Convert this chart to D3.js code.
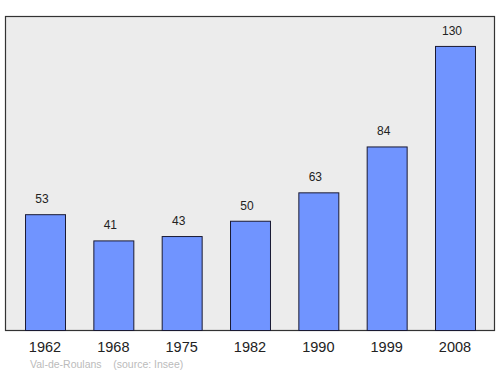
<!DOCTYPE html>
<html>
<head>
<meta charset="utf-8">
<script src="https://d3js.org/d3.v7.min.js"></script>
<style>
  body { margin: 0; background: #fff; }
  text { font-family: "Liberation Sans", Arial, sans-serif; }
</style>
</head>
<body>
<svg width="500" height="374"></svg>
<script>
  // data
  var years = ['1962', '1968', '1975', '1982', '1990', '1999', '2008'];
  var population = [53, 41, 43, 50, 63, 84, 130];
  var place = 'Val-de-Roulans';
  var source = '(source: Insee)';

  var svg = d3.select('svg');

  var plotLeft = 5, plotRight = 495, plotTop = 16, plotBottom = 330;

  var x = d3.scaleBand()
    .domain(years)
    .range([plotLeft, plotRight])
    .paddingInner(0.415)
    .paddingOuter(0.293);

  var y = d3.scaleLinear()
    .domain([0, 143.7])
    .range([plotBottom, plotTop]);

  // panel
  svg.append('rect')
    .attr('x', plotLeft + 0.5)
    .attr('y', plotTop + 0.5)
    .attr('width', plotRight - plotLeft - 1)
    .attr('height', plotBottom - plotTop)
    .attr('fill', '#ececec')
    .attr('stroke', '#333')
    .attr('stroke-width', 1.2);

  var data = years.map(function(d, i) { return { year: d, value: population[i] }; });

  // bars
  svg.selectAll('rect.bar')
    .data(data)
    .enter()
    .append('rect')
    .attr('class', 'bar')
    .attr('x', function(d) { return x(d.year) + 0.5; })
    .attr('y', function(d) { return y(d.value) + 0.5; })
    .attr('width', x.bandwidth())
    .attr('height', function(d) { return plotBottom - y(d.value); })
    .attr('fill', '#7094ff')
    .attr('stroke', '#1a1a33')
    .attr('stroke-width', 1);

  // value labels (sit a little left of the bar centre in the original)
  svg.selectAll('text.val')
    .data(data)
    .enter()
    .append('text')
    .attr('class', 'val')
    .attr('x', function(d) { return x(d.year) + x.bandwidth() / 2 - 3; })
    .attr('y', function(d) { return y(d.value) - 11; })
    .attr('text-anchor', 'middle')
    .attr('font-size', 12)
    .attr('fill', '#222')
    .text(function(d) { return d.value; });

  // x axis labels
  svg.selectAll('text.year')
    .data(years)
    .enter()
    .append('text')
    .attr('class', 'year')
    .attr('x', function(d) { return x(d) + x.bandwidth() / 2; })
    .attr('y', 352)
    .attr('text-anchor', 'middle')
    .attr('font-size', 14.5)
    .attr('fill', '#222')
    .text(function(d) { return d; });

  // caption
  svg.append('text')
    .attr('x', 30)
    .attr('y', 368)
    .attr('font-size', 10.5)
    .attr('fill', '#bbb')
    .attr('xml:space', 'preserve')
    .text(place + '    ' + source);
</script>
</body>
</html>
